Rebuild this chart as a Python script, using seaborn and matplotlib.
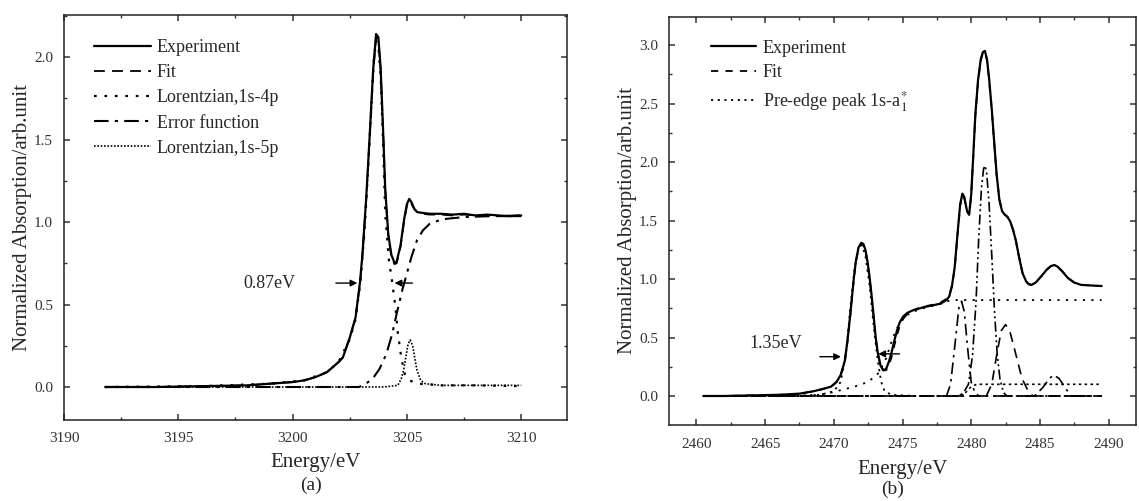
import numpy as np
import pandas as pd
import matplotlib
matplotlib.use("Agg")
import matplotlib.pyplot as plt
from matplotlib.ticker import MultipleLocator, FormatStrFormatter
import seaborn as sns

# ---------------- data: panel (a) ----------------
a_exp_E = [3191.8, 3194, 3196, 3198, 3199, 3200, 3200.5, 3201.0, 3201.5, 3202.0,
           3202.2, 3202.5, 3202.75, 3202.95, 3203.05, 3203.22, 3203.38, 3203.52, 3203.65, 3203.75,
           3203.85, 3203.95, 3204.05, 3204.18, 3204.32, 3204.45, 3204.55, 3204.72, 3204.88, 3205.0,
           3205.1, 3205.2, 3205.32, 3205.45, 3205.7, 3206.0, 3206.5, 3207.0, 3207.5, 3208.0,
           3208.5, 3209.0, 3209.5, 3210.0]
a_exp_v = [0.00, 0.00, 0.005, 0.01, 0.02, 0.03, 0.04, 0.06, 0.09, 0.15,
           0.18, 0.30, 0.42, 0.64, 0.80, 1.15, 1.55, 1.92, 2.14, 2.12,
           1.93, 1.58, 1.20, 0.93, 0.80, 0.755, 0.76, 0.86, 1.02, 1.11,
           1.14, 1.12, 1.08, 1.06, 1.055, 1.05, 1.05, 1.045, 1.05, 1.04,
           1.045, 1.04, 1.035, 1.04]
a_fit_v = [0.00, 0.00, 0.005, 0.01, 0.02, 0.03, 0.04, 0.06, 0.09, 0.15,
           0.18, 0.30, 0.42, 0.63, 0.79, 1.14, 1.54, 1.90, 2.12, 2.10,
           1.92, 1.57, 1.19, 0.92, 0.79, 0.745, 0.75, 0.85, 1.01, 1.10,
           1.13, 1.11, 1.08, 1.06, 1.05, 1.045, 1.045, 1.04, 1.045, 1.04,
           1.04, 1.035, 1.035, 1.035]

a_l4p_E = [3191.8, 3196, 3199, 3200.5, 3201.5, 3202.0, 3202.5, 3202.75, 3202.95, 3203.15,
           3203.3, 3203.45, 3203.55, 3203.65, 3203.75, 3203.85, 3203.95, 3204.05, 3204.2, 3204.34,
           3204.5, 3204.6, 3204.75, 3204.9, 3205.1, 3205.5, 3206.5, 3208.0, 3210.0]
a_l4p_v = [0.00, 0.005, 0.02, 0.04, 0.09, 0.15, 0.29, 0.41, 0.62, 0.95,
           1.32, 1.72, 1.98, 2.10, 2.06, 1.88, 1.50, 1.05, 0.78, 0.65,
           0.48, 0.33, 0.18, 0.08, 0.04, 0.02, 0.01, 0.01, 0.005]

a_erf_E = [3191.8, 3196, 3200, 3202.9, 3203.2, 3203.5, 3203.8, 3204.1, 3204.35, 3204.56, 3204.8,
           3205.0, 3205.2, 3205.44, 3205.7, 3206.0, 3206.4, 3206.75, 3207.5, 3208.5, 3210.0]
a_erf_v = [0.00, 0.00, 0.00, 0.00, 0.02, 0.05, 0.11, 0.20, 0.32, 0.45, 0.59,
           0.69, 0.79, 0.89, 0.95, 0.99, 1.01, 1.02, 1.03, 1.035, 1.04]

a_l5p_E = [3191.8, 3198, 3204.0, 3204.6, 3204.75, 3204.85, 3204.95, 3205.05, 3205.14, 3205.25,
           3205.35, 3205.44, 3205.6, 3205.8, 3206.5, 3208.0, 3210.0]
a_l5p_v = [0.00, 0.00, 0.00, 0.01, 0.05, 0.10, 0.18, 0.26, 0.285, 0.25,
           0.17, 0.10, 0.04, 0.02, 0.01, 0.01, 0.01]

# ---------------- data: panel (b) ----------------
b_exp_E = [2460.5, 2462, 2464, 2466, 2467.5, 2468.5, 2469.2, 2469.8, 2470.2, 2470.5,
           2470.8, 2471.0, 2471.2, 2471.45, 2471.6, 2471.8, 2472.0, 2472.15, 2472.3, 2472.45,
           2472.6, 2472.75, 2472.9, 2473.05, 2473.2, 2473.4, 2473.6, 2473.8, 2474.0, 2474.2,
           2474.4, 2474.6, 2474.8, 2475.05, 2475.35, 2475.7, 2476.0, 2476.56, 2477.2, 2477.78,
           2478.2, 2478.4, 2478.6, 2478.8, 2479.0, 2479.2, 2479.36, 2479.5, 2479.7, 2479.85,
           2480.0, 2480.15, 2480.3, 2480.5, 2480.7, 2480.85, 2481.0, 2481.15, 2481.3, 2481.5,
           2481.67, 2481.85, 2482.05, 2482.25, 2482.45, 2482.65, 2482.85, 2483.05, 2483.25, 2483.5,
           2483.74, 2484.0, 2484.2, 2484.4, 2484.7, 2485.08, 2485.5, 2485.8, 2486.05, 2486.3,
           2486.6, 2487.03, 2487.5, 2488.0, 2488.7, 2489.5]
b_exp_v = [0.00, 0.00, 0.005, 0.01, 0.02, 0.04, 0.06, 0.08, 0.12, 0.18,
           0.30, 0.48, 0.70, 1.00, 1.15, 1.27, 1.31, 1.30, 1.25, 1.15,
           1.02, 0.86, 0.68, 0.50, 0.37, 0.26, 0.22, 0.23, 0.29, 0.37,
           0.47, 0.56, 0.63, 0.68, 0.71, 0.73, 0.74, 0.76, 0.775, 0.79,
           0.82, 0.85, 0.94, 1.10, 1.38, 1.64, 1.73, 1.70, 1.58, 1.55,
           1.72, 2.05, 2.40, 2.70, 2.88, 2.94, 2.95, 2.88, 2.72, 2.45,
           2.18, 1.90, 1.68, 1.58, 1.55, 1.53, 1.49, 1.42, 1.33, 1.18,
           1.05, 0.98, 0.955, 0.95, 0.97, 1.02, 1.08, 1.11, 1.12, 1.105,
           1.07, 1.01, 0.97, 0.95, 0.945, 0.94]
b_fit_v = [0.00, 0.00, 0.005, 0.01, 0.02, 0.04, 0.06, 0.08, 0.12, 0.18,
           0.29, 0.47, 0.69, 0.99, 1.14, 1.26, 1.30, 1.29, 1.24, 1.14,
           1.01, 0.85, 0.67, 0.49, 0.36, 0.26, 0.22, 0.22, 0.26, 0.33,
           0.43, 0.52, 0.60, 0.66, 0.70, 0.73, 0.745, 0.765, 0.78, 0.80,
           0.83, 0.86, 0.94, 1.09, 1.37, 1.63, 1.72, 1.69, 1.58, 1.55,
           1.71, 2.04, 2.39, 2.69, 2.87, 2.93, 2.94, 2.87, 2.71, 2.44,
           2.17, 1.89, 1.68, 1.58, 1.55, 1.53, 1.49, 1.42, 1.33, 1.18,
           1.05, 0.98, 0.955, 0.95, 0.97, 1.02, 1.08, 1.11, 1.115, 1.10,
           1.07, 1.01, 0.97, 0.95, 0.945, 0.94]

b_pre_E = [2460.5, 2466, 2469.0, 2470.0, 2470.5, 2470.9, 2471.2, 2471.5, 2471.8, 2472.05, 2472.3,
           2472.6, 2472.9, 2473.2, 2473.45, 2473.7, 2474.2, 2476.0]
b_pre_v = [0.00, 0.00, 0.01, 0.04, 0.12, 0.38, 0.75, 1.08, 1.26, 1.29, 1.20,
           0.95, 0.60, 0.30, 0.12, 0.04, 0.01, 0.00]

b_step_E = [2460.5, 2468.0, 2469.5, 2470.5, 2471.5, 2472.5, 2473.3, 2473.8, 2474.3, 2474.8,
            2475.3, 2476.0, 2476.8, 2477.6, 2478.5, 2480.0, 2485.0, 2489.5]
b_step_v = [0.00, 0.00, 0.02, 0.05, 0.08, 0.12, 0.20, 0.32, 0.50, 0.63,
            0.69, 0.73, 0.76, 0.78, 0.82, 0.82, 0.82, 0.82]

b_p1_E = [2460.5, 2478.2, 2478.5, 2478.8, 2479.1, 2479.3, 2479.5, 2479.75, 2480.0, 2480.3, 2480.6, 2489.5]
b_p1_v = [0.00, 0.00, 0.10, 0.42, 0.75, 0.81, 0.72, 0.40, 0.12, 0.02, 0.00, 0.00]

b_p2_E = [2460.5, 2479.3, 2479.8, 2480.1, 2480.35, 2480.55, 2480.75, 2480.9, 2481.0, 2481.12,
          2481.3, 2481.5, 2481.7, 2481.9, 2482.1, 2482.35, 2482.6, 2489.5]
b_p2_v = [0.00, 0.00, 0.10, 0.35, 0.80, 1.35, 1.78, 1.94, 1.97, 1.92,
          1.65, 1.20, 0.72, 0.35, 0.14, 0.03, 0.00, 0.00]

b_p3_E = [2460.5, 2481.1, 2481.5, 2481.9, 2482.2, 2482.5, 2482.8, 2483.2, 2483.7, 2484.2, 2484.5, 2489.5]
b_p3_v = [0.00, 0.00, 0.10, 0.38, 0.56, 0.61, 0.56, 0.38, 0.15, 0.03, 0.00, 0.00]

b_p4_E = [2460.5, 2484.6, 2485.2, 2485.7, 2486.0, 2486.4, 2486.9, 2487.3, 2489.5]
b_p4_v = [0.00, 0.00, 0.07, 0.15, 0.18, 0.15, 0.06, 0.00, 0.00]

b_step2_E = [2460.5, 2479.0, 2479.6, 2480.0, 2480.4, 2489.5]
b_step2_v = [0.00, 0.00, 0.03, 0.08, 0.10, 0.10]

# ---------------- style ----------------
sns.set_style("ticks")
plt.rcParams["font.family"] = ["Liberation Serif", "DejaVu Serif"]
plt.rcParams["mathtext.fontset"] = "stix"
plt.rcParams["axes.linewidth"] = 1.1
for k in ("xtick", "ytick"):
    plt.rcParams[f"{k}.direction"] = "in"
    plt.rcParams[f"{k}.major.size"] = 4.5
    plt.rcParams[f"{k}.minor.size"] = 2.5
    plt.rcParams[f"{k}.major.width"] = 1.1
    plt.rcParams[f"{k}.minor.width"] = 1.0
    plt.rcParams[f"{k}.color"] = "#333333"
    plt.rcParams[f"{k}.labelcolor"] = "#333333"

fig = plt.figure(figsize=(11.39, 5.01), dpi=100)
W, H = 1139, 501
axA = fig.add_axes([64 / W, (H - 420) / H, (567 - 64) / W, (420 - 15) / H])
axB = fig.add_axes([669 / W, (H - 425) / H, (1136 - 669) / W, (425 - 17) / H])

K = "black"


def draw(ax, x, y, ls, lw, label=None):
    df = pd.DataFrame({"x": x, "y": y})
    sns.lineplot(data=df, x="x", y="y", ax=ax, color=K, linestyle=ls, lw=lw,
                 label=label, legend=False, sort=False, estimator=None)


# panel (a)
draw(axA, a_exp_E, a_exp_v, "-", 1.6, "Experiment")
draw(axA, a_exp_E, a_fit_v, (0, (6, 4)), 1.3, "Fit")
draw(axA, a_l4p_E, a_l4p_v, (0, (1.2, 3.5)), 1.6, "Lorentzian,1s-4p")
draw(axA, a_erf_E, a_erf_v, (0, (7, 3, 1.5, 3)), 1.5, "Error function")
draw(axA, a_l5p_E, a_l5p_v, (0, (1, 1)), 1.2, "Lorentzian,1s-5p")

# panel (b)
draw(axB, b_exp_E, b_exp_v, "-", 1.6, "Experiment")
draw(axB, b_exp_E, b_fit_v, (0, (4, 4)), 1.3, "Fit")
draw(axB, b_pre_E, b_pre_v, (0, (1.2, 2.5)), 1.3, "Pre-edge peak 1s-a$_{1}^{*}$")
draw(axB, b_step_E, b_step_v, (0, (1.2, 3.5)), 1.3)
draw(axB, b_p1_E, b_p1_v, (0, (7, 3, 1.5, 3)), 1.2)
draw(axB, b_p2_E, b_p2_v, (0, (6, 2, 1.2, 2, 1.2, 2)), 1.2)
draw(axB, b_p3_E, b_p3_v, (0, (6, 4)), 1.2)
draw(axB, b_p4_E, b_p4_v, (0, (7, 3, 1.5, 3)), 1.2)
draw(axB, b_step2_E, b_step2_v, (0, (1.5, 2)), 1.2)

for ax, xl, yl, xpad in ((axA, (3190, 3212), (-0.2, 2.255), 5.5),
                         (axB, (2458, 2492), (-0.248, 3.24), 6.5)):
    ax.set_xlim(*xl)
    ax.set_ylim(*yl)
    ax.xaxis.set_major_locator(MultipleLocator(5))
    ax.xaxis.set_minor_locator(MultipleLocator(2.5))
    ax.yaxis.set_major_locator(MultipleLocator(0.5))
    ax.yaxis.set_minor_locator(MultipleLocator(0.25))
    ax.tick_params(which="both", top=True, right=True, labelsize=11, pad=8)
    ax.tick_params(axis="x", which="both", pad=9)
    ax.yaxis.set_major_formatter(FormatStrFormatter("%.1f"))
    ax.set_xlabel("Energy/eV", fontsize=15, labelpad=xpad)
    ax.set_ylabel("Normalized Absorption/arb.unit", fontsize=15, labelpad=1.5)
    for s in ax.spines.values():
        s.set_color("#222222")

axA.legend(loc="upper left", bbox_to_anchor=(0.046, 0.958), frameon=False, fontsize=13,
           handlelength=3.15, handletextpad=0.3, labelspacing=0.45, borderaxespad=0.0)
axB.legend(loc="upper left", bbox_to_anchor=(0.075, 0.962), frameon=False, fontsize=13,
           handlelength=2.5, handletextpad=0.35, labelspacing=0.42, borderaxespad=0.0)

# FWHM annotations
arrow = dict(arrowstyle="-|>", color=K, lw=1.0, mutation_scale=10)
axA.annotate("", xy=(3202.95, 0.63), xytext=(3201.77, 0.63), arrowprops=arrow)
axA.annotate("", xy=(3204.34, 0.63), xytext=(3205.36, 0.63), arrowprops=arrow)
axA.text(3199.0, 0.63, "0.87eV", fontsize=13, ha="center", va="center")

axB.annotate("", xy=(2470.72, 0.336), xytext=(2468.78, 0.336), arrowprops=arrow)
axB.annotate("", xy=(2473.04, 0.36), xytext=(2474.98, 0.36), arrowprops=arrow)
axB.text(2465.75, 0.45, "1.35eV", fontsize=13, ha="center", va="center")

fig.text(311 / W, 1 - 485 / H, "(a)", fontsize=14, ha="center", va="center")
fig.text(893 / W, 1 - 489 / H, "(b)", fontsize=14, ha="center", va="center")

fig.savefig("out.png", dpi=100)
